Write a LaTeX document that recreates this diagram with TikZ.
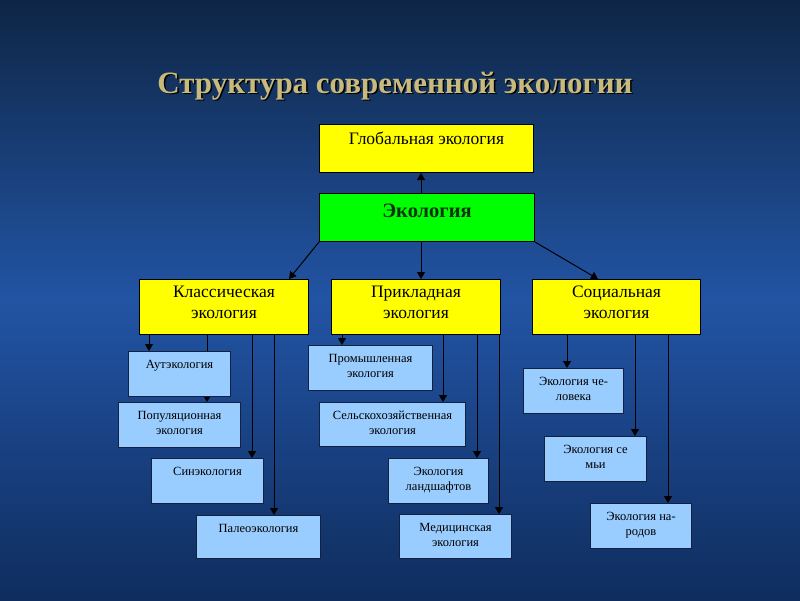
\documentclass[tikz,border=0pt]{standalone}
\usepackage{fontspec}
\setmainfont{Liberation Serif}
\definecolor{slide dark}{HTML}{0E2646}
\definecolor{slide blue}{HTML}{2254A4}
\definecolor{slide low}{HTML}{0F2D5E}
\definecolor{title gold}{HTML}{C8BA7C}
\definecolor{box yellow}{HTML}{FFFF00}
\definecolor{box green}{HTML}{00FF00}
\definecolor{eco text}{HTML}{0B300B}
\definecolor{box blue}{HTML}{99CCFF}
\definecolor{box edge}{HTML}{13203E}
\usetikzlibrary{arrows.meta}
\pgfdeclarelayer{slide}
\pgfdeclarelayer{wires}
\pgfsetlayers{slide,wires,main}
\tikzstyle{line} = [line width=1pt, draw=black]
\tikzstyle{line>} = [line,-{Triangle[length=7pt, width=8pt]}]
\tikzstyle{title text}=[font=\fontsize{31}{36}\selectfont\bfseries]
\tikzstyle{main box}=[draw=black, line width=1pt, fill=box yellow, anchor=north west, align=center, inner xsep=2pt, inner ysep=0pt, font=\fontsize{17.5}{21}\selectfont, text height=20pt, text depth=28pt]
\tikzstyle{main box2}=[main box, text height=39pt, text depth=16pt]
\tikzstyle{sub box}=[draw=box edge, line width=1pt, fill=box blue, anchor=north west, align=center, inner xsep=2pt, inner ysep=0pt, font=\fontsize{12.5}{15}\selectfont, text height=17pt, text depth=28pt]
\tikzstyle{sub box2}=[sub box, text height=32pt, text depth=13pt]

\begin{document}
\begin{tikzpicture}[x=1pt,y=-1pt]
        \useasboundingbox (0,0) rectangle (800,600);
        \begin{pgfonlayer}{slide}
            \shade[top color=slide dark, bottom color=slide blue] (0,0) rectangle (800,300);
            \shade[top color=slide blue, bottom color=slide low] (0,300) rectangle (800,600);
        \end{pgfonlayer}

        \node[title text,text=black] (title shadow) at (396.5,87.5) {Структура современной экологии};
        \node[title text,text=title gold] (title) at (395,86) {Структура современной экологии};

        \node[main box,minimum width=214pt] (glob) at (319,124) {Глобальная экология};
        \node[main box,fill=box green,minimum width=215pt,text height=24pt,text depth=24pt,text=eco text,font=\fontsize{20.5}{24}\selectfont\bfseries] (eco) at (319,193) {Экология};
        \node[main box2,minimum width=169pt] (klass) at (139,279) {Классическая\\экология};
        \node[main box2,minimum width=169pt] (prikl) at (331,279) {Прикладная\\экология};
        \node[main box2,minimum width=168pt] (soc) at (532,279) {Социальная\\экология};

        \node[sub box,minimum width=102pt] (auto) at (128,351) {Аутэкология};
        \node[sub box2,minimum width=122pt] (popul) at (118,402) {Популяционная\\экология};
        \node[sub box,minimum width=112pt] (sin) at (151,458) {Синэкология};
        \node[sub box,minimum width=124pt,text depth=26pt] (paleo) at (196,515) {Палеоэкология};

        \node[sub box2,minimum width=124pt] (prom) at (308,345) {Промышленная\\экология};
        \node[sub box2,minimum width=146pt,text depth=12pt] (selsk) at (319,402) {Сельскохозяйственная\\экология};
        \node[sub box2,minimum width=100pt] (landsh) at (388,458) {Экология\\ландшафтов};
        \node[sub box2,minimum width=112pt,text depth=12pt] (med) at (399,514) {Медицинская\\экология};

        \node[sub box2,minimum width=100pt] (chel) at (523,368) {Экология че-\\ловека};
        \node[sub box2,minimum width=102pt] (semi) at (544,436) {Экология се\\мьи};
        \node[sub box2,minimum width=101pt] (narod) at (590,503) {Экология на-\\родов};

        \begin{pgfonlayer}{wires}
        \draw[line>] (eco.north -| 421,0) -- (glob.south -| 421,0);
        \draw[line>] (eco.south west) -- (klass.north -| 289,0);
        \draw[line>] (eco.south -| 421,0) -- (prikl.north -| 421,0);
        \draw[line>] (eco.south east) -- (soc.north -| 598,0);

        \draw[line>] (klass.south -| 149,0) -- (auto.north -| 149,0);
        \draw[line>] (klass.south -| 207,0) -- (popul.north -| 207,0);
        \draw[line>] (klass.south -| 252,0) -- (sin.north -| 252,0);
        \draw[line>] (klass.south -| 274,0) -- (paleo.north -| 274,0);

        \draw[line>] (prikl.south -| 342,0) -- (prom.north -| 342,0);
        \draw[line>] (prikl.south -| 443,0) -- (selsk.north -| 443,0);
        \draw[line>] (prikl.south -| 477,0) -- (landsh.north -| 477,0);
        \draw[line>] (prikl.south -| 499,0) -- (med.north -| 499,0);

        \draw[line>] (soc.south -| 567,0) -- (chel.north -| 567,0);
        \draw[line>] (soc.south -| 635,0) -- (semi.north -| 635,0);
        \draw[line>] (soc.south -| 668,0) -- (narod.north -| 668,0);
        \end{pgfonlayer}
    \end{tikzpicture}
\end{document}
